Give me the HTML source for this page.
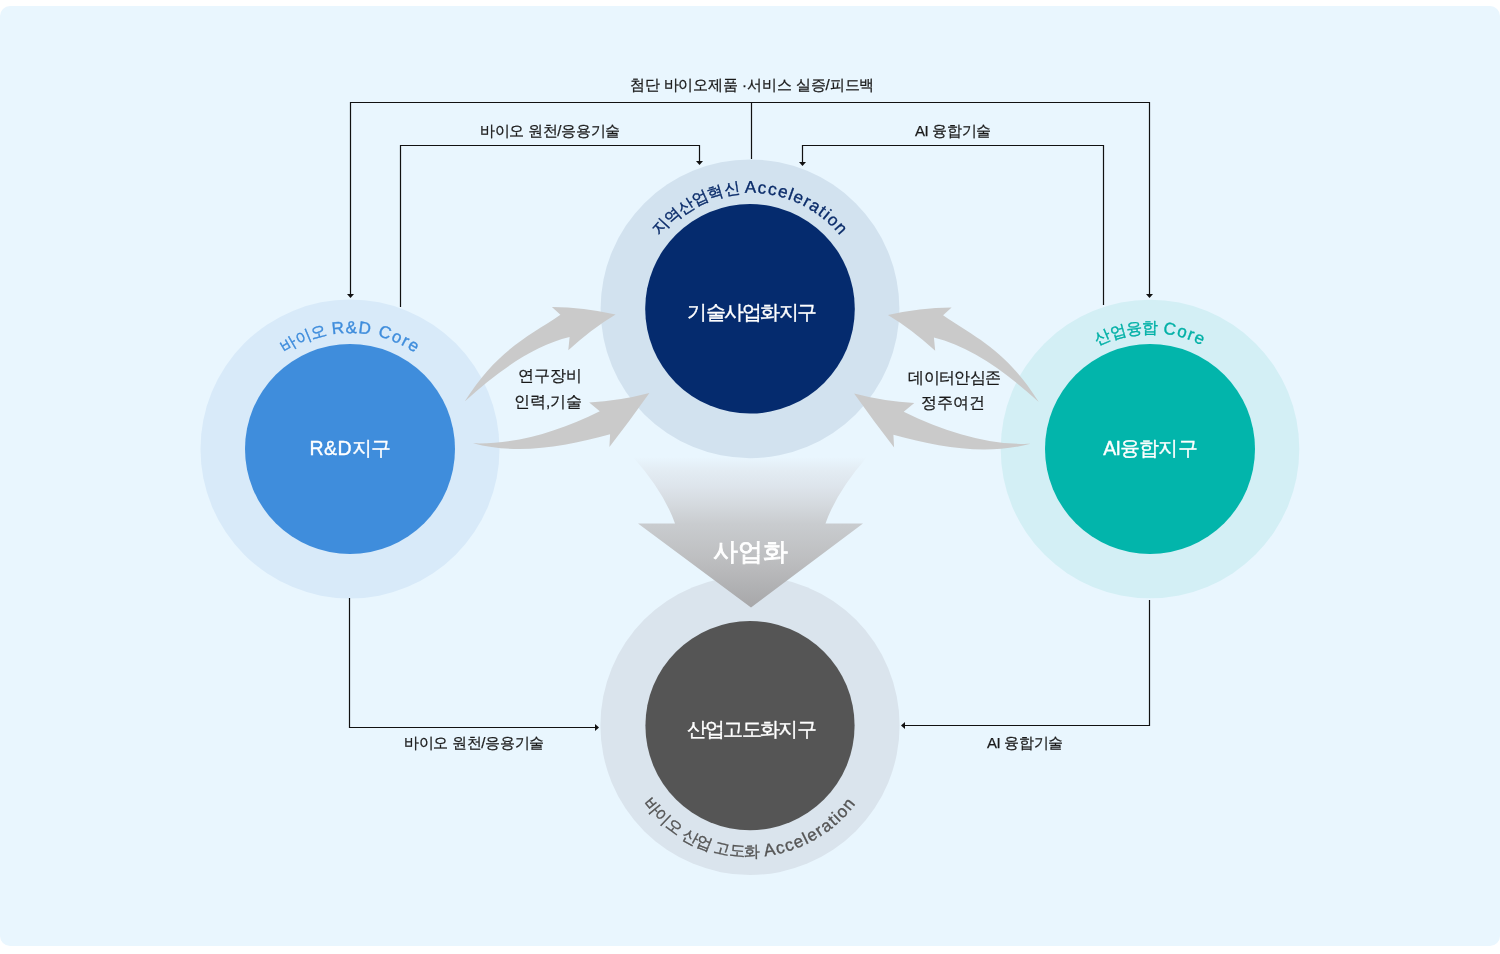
<!DOCTYPE html>
<html lang="ko"><head><meta charset="utf-8">
<style>
html,body{margin:0;padding:0;background:#fff;width:1500px;height:954px;overflow:hidden}
svg{display:block;font-family:"Liberation Sans",sans-serif;will-change:transform}
</style></head><body>
<svg width="1500" height="954" viewBox="0 0 1500 954">
<defs>
<linearGradient id="fun" x1="0" y1="0" x2="0" y2="1" gradientUnits="objectBoundingBox">
<stop offset="0" stop-color="#e9f6fe"/>
<stop offset="0.09" stop-color="#e3ecf3"/>
<stop offset="0.2" stop-color="#dde4eb"/>
<stop offset="0.31" stop-color="#d5dadf"/>
<stop offset="0.445" stop-color="#c9cccf"/>
<stop offset="0.684" stop-color="#bdbec0"/>
<stop offset="1" stop-color="#a7a7a9"/>
</linearGradient>
<path id="pTop" d="M 634 308.8 A 116 116 0 0 1 866 308.8"/>
<path id="pLeft" d="M 234 449 A 116 116 0 0 1 466 449"/>
<path id="pRight" d="M 1034 449 A 116 116 0 0 1 1266 449"/>
<path id="pBot" d="M 618.5 725.5 A 131.5 131.5 0 0 0 881.5 725.5"/>
</defs>
<rect x="0" y="6" width="1500" height="940" rx="10" fill="#e9f6fe"/>

<!-- circles -->
<circle cx="350" cy="449" r="149.5" fill="#d8eaf9"/>
<circle cx="350" cy="449" r="105" fill="#3f8ddc"/>
<circle cx="1150" cy="449" r="149.3" fill="#d3eff5"/>
<circle cx="1150" cy="449" r="105" fill="#02b5ab"/>
<circle cx="750" cy="725.4" r="149.6" fill="#dae4ed"/>
<circle cx="750" cy="725.6" r="104.6" fill="#555555"/>

<!-- funnel arrow -->
<path d="M 633 457 L 867 457 Q 836.5 492 825.5 523.5 L 863 523.5 L 751 607.5 L 638 523.5 L 675 523.5 Q 664 492 633 457 Z" fill="url(#fun)"/>
<circle cx="750" cy="308.8" r="149.4" fill="#d2e2ef"/>
<circle cx="750" cy="308.8" r="104.8" fill="#052b6e"/>
<text x="750" y="560" font-size="25" fill="#fff" stroke="#fff" stroke-width="0.8" text-anchor="middle">사업화</text>

<!-- curved arrows -->
<g id="arrL" fill="#cacaca">
<path d="M 464.7 401.6 C 496.6 350.1 528.5 336.7 560.4 314.8 L 551.9 306.9 Q 583.75 307.15 615.6 314.4 Q 591.95 328.5 568.3 350.2 L 569.6 337.1 C 534.6 345.6 499.7 369.6 464.7 401.6 Z"/>
<path d="M 473.0 443.3 C 515.3 444.7 557.5 431.9 599.8 411.2 L 589.2 402.6 Q 619.3 401 649.4 393.1 Q 629.4 421.5 609.4 447 L 610.1 434.3 C 564.4 446.6 518.7 455.3 473.0 443.3 Z"/>
</g>
<use href="#arrL" transform="translate(1503.5,0.5) scale(-1,1)"/>

<!-- connectors -->
<g stroke="#111" stroke-width="1.2" fill="none">
<polyline points="350.5,294 350.5,102.5 1149.5,102.5 1149.5,294"/>
<line x1="751.5" y1="102.5" x2="751.5" y2="159"/>
<polyline points="400.5,307 400.5,145.5 699.5,145.5 699.5,161"/>
<polyline points="1103.5,305 1103.5,145.5 802.5,145.5 802.5,162"/>
<polyline points="349.5,598 349.5,727.5 595,727.5"/>
<polyline points="1149.5,600 1149.5,725.5 905,725.5"/>
</g>
<g fill="#111">
<path d="M 347 294 L 354 294 L 350.5 298 Z"/>
<path d="M 1146 294 L 1153 294 L 1149.5 298 Z"/>
<path d="M 696 161 L 703 161 L 699.5 165 Z"/>
<path d="M 799 162 L 806 162 L 802.5 166 Z"/>
<path d="M 595 724 L 595 731 L 599 727.5 Z"/>
<path d="M 905 722 L 905 729 L 901 725.5 Z"/>
</g>

<!-- labels -->
<g font-size="15" fill="#1a1a1a" stroke="#1a1a1a" stroke-width="0.25" text-anchor="middle" letter-spacing="-0.3">
<text x="752" y="90" letter-spacing="-0.1">첨단 바이오제품 ·서비스 실증/피드백</text>
<text x="550" y="136">바이오 원천/응용기술</text>
<text x="953" y="136">AI 융합기술</text>
<text x="550" y="381" font-size="15.5" letter-spacing="-0.2">연구장비</text>
<text x="548" y="406.5" font-size="15.5" letter-spacing="-0.2">인력,기술</text>
<text x="954.5" y="382.5" font-size="15.5" letter-spacing="-0.6">데이터안심존</text>
<text x="953" y="407.5" font-size="15.5" letter-spacing="-0.2">정주여건</text>
<text x="474" y="748">바이오 원천/응용기술</text>
<text x="1025" y="748">AI 융합기술</text>
</g>
<g font-size="19.5" fill="#fff" stroke="#fff" stroke-width="0.35" text-anchor="middle" letter-spacing="-0.8">
<text x="751.3" y="319" letter-spacing="-1.7">기술사업화지구</text>
<text x="350" y="455"><tspan letter-spacing="0.4">R&amp;D</tspan>지구</text>
<text x="1150" y="455">AI융합지구</text>
<text x="750.8" y="735.5" letter-spacing="-1.7">산업고도화지구</text>
</g>
<!-- curved labels -->
<text font-size="17" fill="#0b2c6a" stroke="#0b2c6a" stroke-width="0.35" ><textPath href="#pTop" startOffset="50%" text-anchor="middle"><tspan font-size="16" letter-spacing="-0.3">지역산업혁신</tspan><tspan letter-spacing="0"> </tspan><tspan letter-spacing="1.3">Acceleration</tspan></textPath></text>
<text font-size="17" fill="#3f8ddc" stroke="#3f8ddc" stroke-width="0.35" ><textPath href="#pLeft" startOffset="50%" text-anchor="middle"><tspan font-size="16" letter-spacing="-0.3">바이오</tspan><tspan letter-spacing="0"> </tspan><tspan letter-spacing="1.3">R&amp;D Core</tspan></textPath></text>
<text font-size="17" fill="#00b0a6" stroke="#00b0a6" stroke-width="0.35" ><textPath href="#pRight" startOffset="50%" text-anchor="middle"><tspan font-size="16" letter-spacing="-0.3">산업융합</tspan><tspan letter-spacing="0"> </tspan><tspan letter-spacing="1.3">Core</tspan></textPath></text>
<text font-size="17" fill="#555" stroke="#555" stroke-width="0.35" ><textPath href="#pBot" startOffset="50%" text-anchor="middle"><tspan font-size="16" letter-spacing="-0.3">바이오 산업 고도화</tspan><tspan letter-spacing="0"> </tspan><tspan letter-spacing="1.3">Acceleration</tspan></textPath></text>
</svg>
</body></html>
